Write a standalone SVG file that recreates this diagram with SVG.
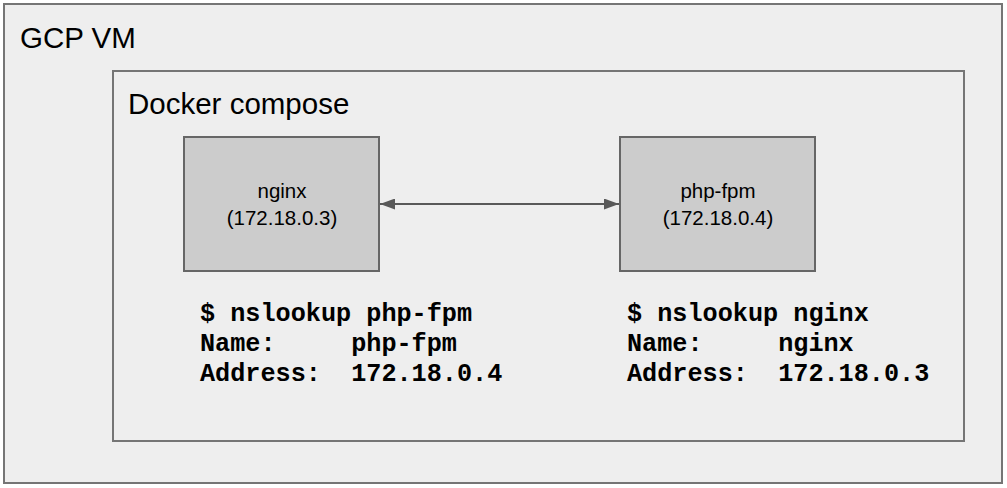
<svg xmlns="http://www.w3.org/2000/svg" width="1007" height="488" viewBox="0 0 1007 488">
<style>
.frame{fill:#eeeeee;stroke:#757575;stroke-width:2}
.node{fill:#cccccc;stroke:#666666;stroke-width:2}
.title{font-family:"Liberation Sans",Arial,sans-serif;font-size:29.5px;fill:#000}
.lbl{font-family:"Liberation Sans",Arial,sans-serif;font-size:20.5px;fill:#000;text-anchor:middle}
.mono{font-family:"Liberation Mono","Courier New",monospace;font-size:25.2px;font-weight:bold;fill:#000;white-space:pre}
</style>
<defs>
<marker id="ah" viewBox="0 0 15 11" refX="15" refY="5.5" markerWidth="15" markerHeight="11" orient="auto-start-reverse" markerUnits="userSpaceOnUse">
<path d="M0,0 L15,5.5 L0,11 z" fill="#595959"/>
</marker>
</defs>
<g id="gcp-vm">
<rect class="frame" x="4" y="4" width="998" height="479"/>
<text class="title" x="20" y="48">GCP VM</text>
</g>
<g id="docker-compose">
<rect class="frame" x="113" y="71" width="851" height="370"/>
<text class="title" x="128" y="114">Docker compose</text>
</g>
<g id="nginx">
<rect class="node" x="184" y="137" width="195" height="134"/>
<text class="lbl" x="282" y="198">nginx</text>
<text class="lbl" x="282" y="225">(172.18.0.3)</text>
</g>
<g id="php-fpm">
<rect class="node" x="620" y="137" width="195" height="134"/>
<text class="lbl" x="718" y="198">php-fpm</text>
<text class="lbl" x="718" y="225">(172.18.0.4)</text>
</g>
<g id="connectors">
<line x1="380" y1="204" x2="619" y2="204" stroke="#595959" stroke-width="2" marker-start="url(#ah)" marker-end="url(#ah)"/>
</g>
<g id="nslookup-nginx">
<text class="mono" x="200" y="321">$ nslookup php-fpm</text>
<text class="mono" x="200" y="351">Name:     php-fpm</text>
<text class="mono" x="200" y="381">Address:  172.18.0.4</text>
</g>
<g id="nslookup-php">
<text class="mono" x="627" y="321">$ nslookup nginx</text>
<text class="mono" x="627" y="351">Name:     nginx</text>
<text class="mono" x="627" y="381">Address:  172.18.0.3</text>
</g>
</svg>
